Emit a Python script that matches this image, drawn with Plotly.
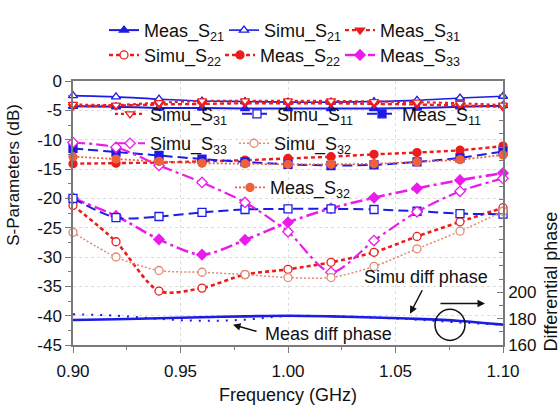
import plotly.graph_objects as go

# ---------------- data ----------------
freq = [0.90, 0.92, 0.94, 0.96, 0.98, 1.00, 1.02, 1.04, 1.06, 1.08, 1.10]

meas_s21 = [-4.3, -4.4, -4.6, -4.6, -4.7, -4.7, -4.7, -4.7, -4.6, -4.4, -4.2]
simu_s21 = [-2.5, -2.7, -3.1, -3.4, -3.5, -3.6, -3.6, -3.5, -3.3, -2.9, -2.6]
meas_s31 = [-4.3, -4.2, -4.0, -3.9, -3.8, -3.8, -3.8, -3.9, -4.0, -4.2, -4.4]
simu_s31 = [-4.0, -4.1, -3.7, -3.4, -3.4, -3.4, -3.4, -3.5, -3.6, -3.8, -4.1]
simu_s22 = [-21.2, -27.4, -35.8, -35.3, -33.0, -32.1, -30.9, -29.2, -26.5, -24.0, -21.6]
meas_s22 = [-14.1, -14.0, -13.9, -13.7, -13.5, -13.2, -12.9, -12.5, -12.2, -11.8, -11.1]
meas_s33 = [-20.0, -23.0, -27.0, -29.6, -27.1, -24.1, -21.7, -19.9, -18.3, -16.9, -15.7]
simu_s33 = [-10.5, -11.3, -14.4, -17.3, -20.7, -25.7, -32.6, -27.2, -22.3, -18.8, -16.6]
simu_s11 = [-20.0, -23.3, -23.1, -22.4, -21.9, -21.8, -21.8, -21.9, -22.2, -22.6, -22.7]
meas_s11 = [-11.5, -12.1, -12.7, -13.3, -13.8, -14.2, -14.4, -14.3, -13.8, -13.1, -12.0]
simu_s32 = [-25.8, -30.0, -32.3, -32.6, -33.0, -33.5, -33.5, -31.6, -28.6, -25.6, -22.2]
meas_s32 = [-12.9, -13.3, -13.7, -14.0, -14.1, -14.2, -14.2, -14.1, -13.8, -13.4, -12.6]

simu_phase = [178.9, 179.5, 180.3, 181.0, 181.7, 182.2, 181.7, 180.8, 179.8, 178.2, 175.4]
meas_phase = [183.3, 182.2, 179.8, 178.3, 179.2, 182.0, 181.8, 180.8, 179.2, 177.0, 175.4]

x_tick_vals = [0.90, 0.95, 1.00, 1.05, 1.10]
x_tick_text = ["0.90", "0.95", "1.00", "1.05", "1.10"]
y_tick_vals = [0, -5, -10, -15, -20, -25, -30, -35, -40, -45]
y_tick_text = ["0", "-5", "-10", "-15", "-20", "-25", "-30", "-35", "-40", "-45"]
y2_tick_vals = [160, 180, 200]
y2_tick_text = ["160", "180", "200"]

# ---------------- styles ----------------
BLUE = "#1c1ce6"
RED = "#ec1c1c"
MAG = "#ea1cea"
SAL_S = "#e08a6c"
SAL_M = "#f0603a"
FONT = "Liberation Sans"

L, R, T, B = 73, 57, 70, 57
W, H = 560, 414
pw, ph = W - L - R, H - T - B


def px(xp):
    return (xp - L) / pw


def py(yp):
    return (H - B - yp) / ph


fig = go.Figure()
legends = {}


def add(name, y, color, dash, width, symbol, filled, pos):
    idx = len(legends) + 1
    key = "legend" if idx == 1 else f"legend{idx}"
    legends[key] = dict(x=px(pos[0] - 3), y=py(pos[1]), xanchor="left", yanchor="middle",
                        orientation="h", bgcolor="rgba(0,0,0,0)", borderwidth=0,
                        font=dict(family=FONT, size=18, color="#111"),
                        itemwidth=30, itemclick=False)
    fig.add_trace(go.Scatter(
        x=freq, y=y, name=name, mode="lines+markers",
        line=dict(color=color, dash=dash, width=width, shape="spline", smoothing=0.8),
        marker=dict(symbol=symbol, size=8,
                    color=color if filled else "white",
                    line=dict(color=color, width=1.3)),
        legend=key, cliponaxis=False,
    ))


sub = lambda base, s: f"{base}_S<sub>{s}</sub>"

# top row 1
add(sub("Meas", "21"), meas_s21, BLUE, "solid", 2, "triangle-up", True, (107, 15))
add(sub("Simu", "21"), simu_s21, BLUE, "solid", 1.6, "triangle-up", False, (227, 15))
add(sub("Meas", "31"), meas_s31, RED, "4px,3px", 2.4, "triangle-down", True, (343, 15))
# top row 2
add(sub("Simu", "22"), simu_s22, RED, "4px,3px", 2.6, "circle", False, (107, 42))
add(sub("Meas", "22"), meas_s22, RED, "4px,3px", 2.4, "circle", True, (223, 42))
add(sub("Meas", "33"), meas_s33, MAG, "12px,4px,3px,4px", 2.6, "diamond", True, (343, 42))
# inside row 1
add(sub("Simu", "31"), simu_s31, RED, "3px,3px", 2.2, "triangle-down", False, (113, 106))
add(sub("Simu", "11"), simu_s11, BLUE, "10px,5px", 2, "square", False, (240, 106))
add(sub("Meas", "11"), meas_s11, BLUE, "10px,5px", 2, "square", True, (365, 106))
# inside row 2
add(sub("Simu", "33"), simu_s33, MAG, "12px,4px,3px,4px", 2.2, "diamond", False, (113, 138))
add(sub("Simu", "32"), simu_s32, SAL_S, "2px,2px", 1.5, "circle", False, (237, 138))
# inside row 3
add(sub("Meas", "32"), meas_s32, SAL_M, "2px,2px", 1.8, "circle", True, (233, 186))

# differential phase (right axis)
fig.add_trace(go.Scatter(x=freq, y=simu_phase, name="Simu diff phase", mode="lines",
                         line=dict(color=BLUE, width=2.6, shape="spline"),
                         yaxis="y2", showlegend=False))
fig.add_trace(go.Scatter(x=freq, y=meas_phase, name="Meas diff phase", mode="lines",
                         line=dict(color=BLUE, width=2, dash="2px,7px", shape="spline"),
                         yaxis="y2", showlegend=False))

axis_common = dict(showline=True, linecolor="#7a7a7a", linewidth=1.5,
                   tickfont=dict(family=FONT, size=17, color="#111"),
                   ticklen=6, tickcolor="#7a7a7a", tickwidth=1.3,
                   zeroline=False)

fig.update_layout(
    width=W, height=H,
    margin=dict(l=L, r=R, t=T, b=B, pad=0),
    paper_bgcolor="white", plot_bgcolor="white",
    font=dict(family=FONT, size=17, color="#111"),
    xaxis=dict(range=[0.9, 1.1], tickvals=x_tick_vals, ticktext=x_tick_text,
               ticks="outside", mirror=True, ticklabelstandoff=4,
               minor=dict(tickmode="linear", tick0=0.9, dtick=0.025, ticklen=3,
                          ticks="outside", tickcolor="#7a7a7a", showgrid=False),
               showgrid=True, gridcolor="#dcdcdc", griddash="dot", gridwidth=1,
               title=dict(text="Frequency (GHz)", font=dict(family=FONT, size=18), standoff=8),
               **axis_common),
    yaxis=dict(range=[-45, 0], tickvals=y_tick_vals, ticktext=y_tick_text,
               ticks="outside", mirror=False,
               minor=dict(tickmode="linear", tick0=0, dtick=2.5, ticklen=3,
                          ticks="outside", tickcolor="#7a7a7a", showgrid=False),
               showgrid=True, gridcolor="#dcdcdc", griddash="dot", gridwidth=1,
               **axis_common),
    yaxis2=dict(range=[160, 360], overlaying="y", side="right",
                tickvals=y2_tick_vals, ticktext=y2_tick_text,
                ticks="inside", showgrid=False,
                minor=dict(tickmode="linear", tick0=160, dtick=10, ticklen=4,
                           ticks="inside", tickcolor="#7a7a7a", showgrid=False),
                **axis_common),
    showlegend=True,
    **legends,
)

txt = dict(family=FONT, size=18, color="#111")
ann = []
ann.append(dict(text="S-Parameters (dB)", x=px(14), y=py(172), xref="paper", yref="paper",
                xanchor="center", yanchor="middle", textangle=-90, showarrow=False,
                font=dict(family=FONT, size=17, color="#111")))
ann.append(dict(text="Simu diff phase", x=px(426), y=py(283), xref="paper", yref="paper",
                xanchor="center", yanchor="middle", showarrow=False, font=txt))
ann.append(dict(text="Meas diff phase", x=px(328), y=py(345), xref="paper", yref="paper",
                xanchor="center", yanchor="middle", showarrow=False, font=txt))
ann.append(dict(text="", x=px(410), y=py(323), xref="paper", yref="paper",
                ax=13, ay=-25, showarrow=True, arrowhead=2, arrowsize=1, arrowwidth=1.5,
                arrowcolor="#111"))
ann.append(dict(text="", x=px(233), y=py(335), xref="paper", yref="paper",
                ax=25, ay=7, showarrow=True, arrowhead=2, arrowsize=1, arrowwidth=1.5,
                arrowcolor="#111"))
ann.append(dict(text="", x=px(485), y=py(312), xref="paper", yref="paper",
                ax=-46, ay=0, showarrow=True, arrowhead=2, arrowsize=1, arrowwidth=1.5,
                arrowcolor="#111"))
ann.append(dict(text="Differential phase", x=px(551), y=py(288), xref="paper", yref="paper",
                xanchor="center", yanchor="middle",
                textangle=-90, showarrow=False, font=txt))
fig.update_layout(annotations=ann)

fig.add_shape(type="circle", xref="paper", yref="paper",
              x0=px(435), x1=px(465), y0=py(352), y1=py(318),
              line=dict(color="#111", width=1.5))

fig.write_html("out.html")
